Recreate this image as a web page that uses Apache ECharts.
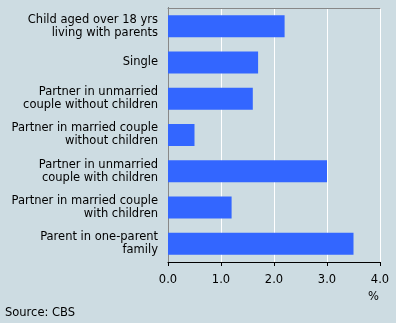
<!DOCTYPE html>
<html><head><meta charset="utf-8">
<script src="https://cdn.jsdelivr.net/npm/echarts@6/dist/echarts.min.js"></script>
<style>html,body{margin:0;padding:0;background:#cddce2;}#c{width:396px;height:323px;}</style>
</head><body><div id="c"></div>
<script>
const categories = [
  "Child aged over 18 yrs\nliving with parents",
  "Single",
  "Partner in unmarried\ncouple without children",
  "Partner in married couple\nwithout children",
  "Partner in unmarried\ncouple with children",
  "Partner in married couple\nwith children",
  "Parent in one-parent\nfamily"
];
const values = [2.2, 1.7, 1.6, 0.5, 3.0, 1.2, 3.5];
const xTicks = [0, 1, 2, 3, 4];
const unitLabel = "%";
const sourceText = "Source: CBS";

const chart = echarts.init(document.getElementById('c'), null, {renderer: 'canvas'});
const font = 'DejaVu Sans';
chart.setOption({
  backgroundColor: '#cddce2',
  animation: false,
  textStyle: {fontFamily: font},
  grid: {left: 168, right: 16, top: 8, bottom: 61, show: false},
  xAxis: [{
    type: 'value', min: xTicks[0], max: xTicks[xTicks.length - 1], interval: 1, position: 'bottom',
    axisLine: {show: true, lineStyle: {color: '#000', width: 1}},
    axisTick: {show: true, length: 4, lineStyle: {color: '#000'}},
    axisLabel: {color: '#000', fontSize: 11.5, fontFamily: font, margin: 12, formatter: v => v.toFixed(1)},
    splitLine: {show: true, lineStyle: {color: '#fff', width: 1}}
  }, {
    type: 'value', min: xTicks[0], max: xTicks[xTicks.length - 1], interval: 1, position: 'top',
    axisLine: {show: true, lineStyle: {color: '#888', width: 1}},
    axisTick: {show: false}, axisLabel: {show: false}, splitLine: {show: false}
  }],
  yAxis: [{
    type: 'category', data: categories, inverse: true, position: 'left',
    axisLine: {show: true, lineStyle: {color: '#000', width: 1}},
    axisTick: {show: false},
    axisLabel: {color: '#000', fontSize: 11.5, fontFamily: font, margin: 10, lineHeight: 13, align: 'right'},
    splitLine: {show: false}
  }, {
    type: 'category', data: categories, inverse: true, position: 'right',
    axisLine: {show: true, lineStyle: {color: '#888', width: 1}},
    axisTick: {show: false}, axisLabel: {show: false}, splitLine: {show: false}
  }],
  series: [{
    type: 'bar', data: values, barWidth: 22, xAxisIndex: 0, yAxisIndex: 0,
    itemStyle: {color: '#3366ff'}
  }],
  graphic: [
    {type: 'text', left: 368, top: 291, style: {text: unitLabel, fontSize: 11.5, fontFamily: font, fill: '#000'}},
    {type: 'text', left: 5, top: 307, style: {text: sourceText, fontSize: 11.5, fontFamily: font, fill: '#000'}}
  ]
});
</script></body></html>
